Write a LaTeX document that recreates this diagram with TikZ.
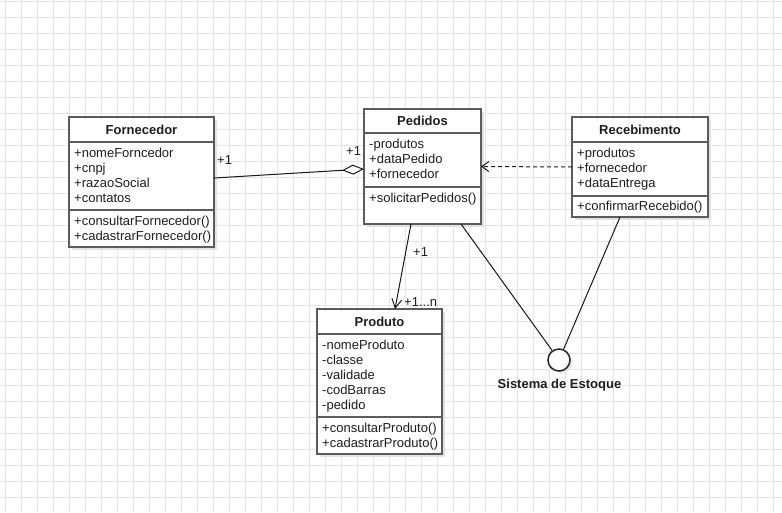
\documentclass[tikz,border=0pt]{standalone}
\usepackage{fontspec}
\setmainfont{Liberation Sans}
\usetikzlibrary{arrows.meta,calc,shadows}
\definecolor{gridc}{RGB}{229,229,229}
\definecolor{boxc}{RGB}{92,92,92}
\definecolor{linec}{RGB}{25,25,25}
\definecolor{shad}{RGB}{226,226,226}
\definecolor{txtc}{RGB}{30,30,30}
\tikzset{
  gridline/.style={draw=gridc, line width=0.9pt},
  cls/.style={draw=boxc, line width=2pt, fill=white, rectangle, inner sep=0pt, outer sep=0pt,
    drop shadow={shadow xshift=3pt, shadow yshift=-3pt, fill=shad, opacity=1}},
  ctitle/.style={font=\fontsize{13}{15}\selectfont\bfseries, inner sep=0pt, anchor=base, text=txtc},
  attr/.style={font=\fontsize{13}{15}\selectfont, inner sep=0pt, anchor=base west, text=txtc},
  sepline/.style={draw=boxc, line width=2pt},
  conn/.style={draw=linec, line width=1pt},
  mult/.style={font=\fontsize{13}{15}\selectfont, inner sep=0pt, anchor=west, text=txtc},
  iface/.style={circle, draw=black!85, line width=1.5pt, fill=white, minimum size=22pt, inner sep=0pt,
    drop shadow={shadow xshift=2pt, shadow yshift=-2pt, fill=shad, opacity=1}},
}
\begin{document}
\begin{tikzpicture}[x=1pt,y=-1pt]
\useasboundingbox (0,0) rectangle (782,512);
\fill[white] (0,0) rectangle (782,512);
% grid
\foreach \x in {5,21,...,773} \draw[gridline] (\x,0) -- (\x,512);
\foreach \y in {1,17,...,497} \draw[gridline] (0,\y) -- (782,\y);

% ---------- Fornecedor ----------
\node[cls, minimum width=145pt, minimum height=130pt] (forn) at (141.5,182) {};
\draw[sepline] (forn.west |- 0,142) -- (forn.east |- 0,142);
\draw[sepline] (forn.west |- 0,210) -- (forn.east |- 0,210);
\node[ctitle] (fornT) at (141.5,134) {Fornecedor};
\foreach \t [count=\i] in {+nomeForncedor,+cnpj,+razaoSocial,+contatos}
  \node[attr] (fornA\i) at (74,{142+15*\i}) {\t};
\foreach \t [count=\i] in {+consultarFornecedor(),+cadastrarFornecedor()}
  \node[attr] (fornM\i) at (74,{210+15*\i}) {\t};

% ---------- Pedidos ----------
\node[cls, minimum width=117pt, minimum height=115pt] (ped) at (422.5,166.5) {};
\draw[sepline] (ped.west |- 0,133) -- (ped.east |- 0,133);
\draw[sepline] (ped.west |- 0,187) -- (ped.east |- 0,187);
\node[ctitle] (pedT) at (422.5,125.5) {Pedidos};
\foreach \t [count=\i] in {-produtos,+dataPedido,+fornecedor}
  \node[attr] (pedA\i) at (369,{133+15*\i}) {\t};
\node[attr] (pedM1) at (369,202) {+solicitarPedidos()};

% ---------- Recebimento ----------
\node[cls, minimum width=136pt, minimum height=100pt] (rec) at (640,167) {};
\draw[sepline] (rec.west |- 0,142) -- (rec.east |- 0,142);
\draw[sepline] (rec.west |- 0,196) -- (rec.east |- 0,196);
\node[ctitle] (recT) at (640,134) {Recebimento};
\foreach \t [count=\i] in {+produtos,+fornecedor,+dataEntrega}
  \node[attr] (recA\i) at (577,{142+15*\i}) {\t};
\node[attr] (recM1) at (577,210.5) {+confirmarRecebido()};

% ---------- Produto ----------
\node[cls, minimum width=125pt, minimum height=145pt] (prod) at (379.5,381.5) {};
\draw[sepline] (prod.west |- 0,334) -- (prod.east |- 0,334);
\draw[sepline] (prod.west |- 0,417) -- (prod.east |- 0,417);
\node[ctitle] (prodT) at (379.5,326) {Produto};
\foreach \t [count=\i] in {-nomeProduto,-classe,-validade,-codBarras,-pedido}
  \node[attr] (prodA\i) at (322,{334+15*\i}) {\t};
\foreach \t [count=\i] in {+consultarProduto(),+cadastrarProduto()}
  \node[attr] (prodM\i) at (322,{417+15*\i}) {\t};

% ---------- Interface ----------
\node[iface] (circ) at (559,360) {};
\node[ctitle] (circL) at (559.5,388.5) {Sistema de Estoque};

% ---------- Connectors ----------
\draw[conn, -{Diamond[open, fill=white, length=22pt, width=10pt, line width=1pt]}]
  ([yshift=4pt]forn.east) -- ([yshift=-2.5pt]ped.west);
\node[mult] (m1) at (217,160) {+1};
\node[mult] (m2) at (346,151.5) {+1};

\draw[conn, dashed, dash pattern=on 4pt off 3pt, -{Straight Barb[length=7pt, width=10pt, line width=1pt]}]
  (rec.west) -- (ped.east);

\draw[conn, -{Straight Barb[length=9pt, width=10pt, line width=1pt]}]
  ([xshift=-11.5pt]ped.south) -- ([xshift=15.5pt]prod.north);
\node[mult] (m3) at (413,252) {+1};
\node[mult] (m4) at (404,302) {+1...n};

\draw[conn] ([xshift=38.5pt]ped.south) -- (circ);
\draw[conn] ([xshift=-20pt]rec.south) -- (circ);
\end{tikzpicture}
\end{document}
